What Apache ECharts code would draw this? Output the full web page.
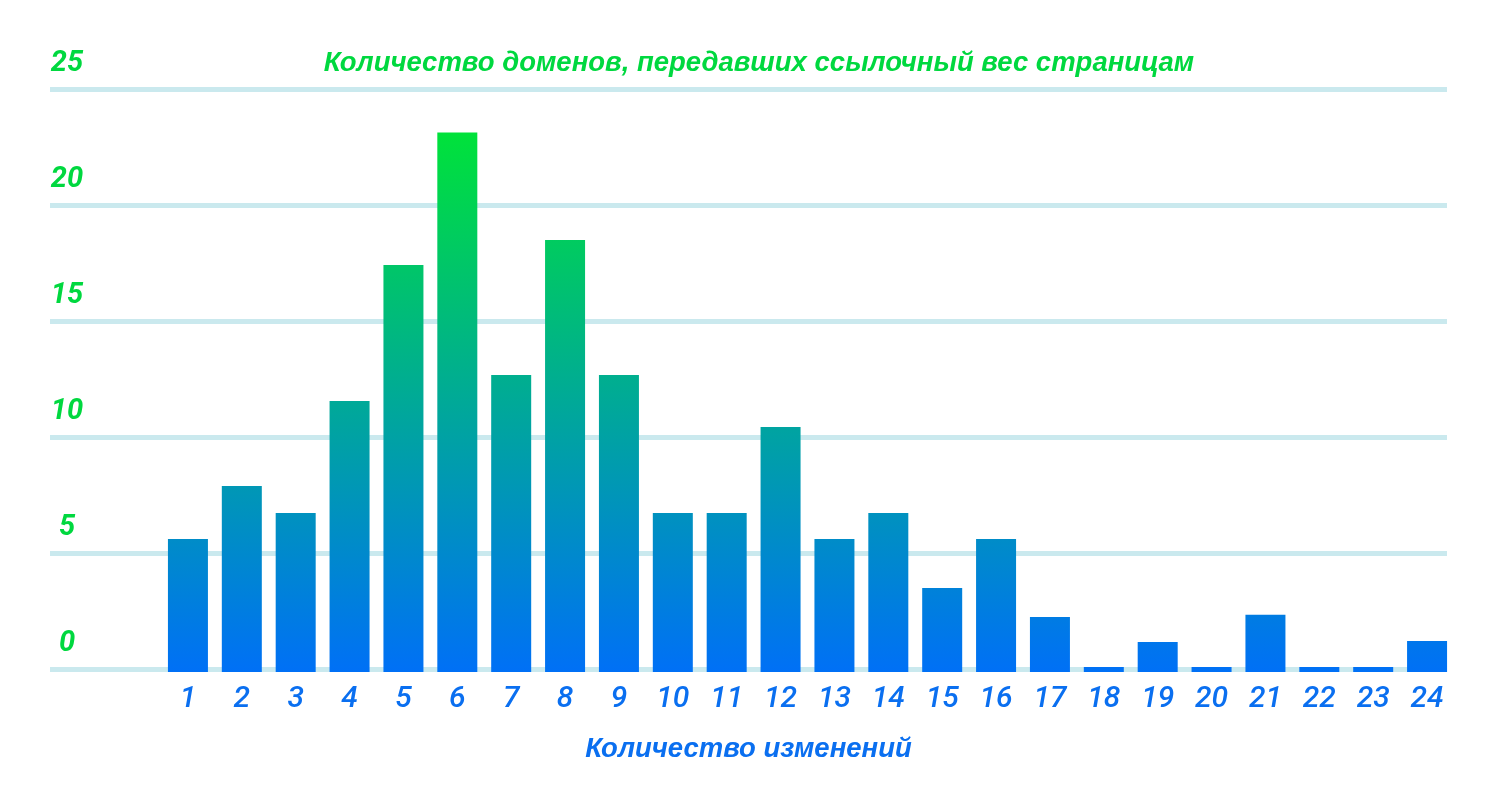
<!DOCTYPE html>
<html>
<head>
<meta charset="utf-8">
<script src="https://cdn.jsdelivr.net/npm/echarts@6/dist/echarts.min.js"></script>
<style>html,body{margin:0;padding:0;background:#fff;}#c{width:1500px;height:810px;}</style>
</head>
<body>
<div id="c"></div>
<script>
const titleText = 'Количество доменов, передавших ссылочный вес страницам';
const xAxisName = 'Количество изменений';
const categories = ['1','2','3','4','5','6','7','8','9','10','11','12','13','14','15','16','17','18','19','20','21','22','23','24'];
const values = [5.73, 8.02, 6.85, 11.68, 17.54, 23.25, 12.8, 18.62, 12.8, 6.85, 6.85, 10.56, 5.73, 6.85, 3.62, 5.73, 2.37, 0.22, 1.29, 0.22, 2.47, 0.22, 0.22, 1.34];
const yTicks = [0, 5, 10, 15, 20, 25];

const chart = echarts.init(document.getElementById('c'));
const green = '#00d83f';
const blue = '#0a6ff0';
chart.setOption({
  backgroundColor: '#ffffff',
  animation: false,
  title: {
    text: titleText,
    left: 754, top: 45, textAlign: 'center',
    textStyle: { fontFamily: 'Liberation Sans', fontStyle: 'italic', fontWeight: 'bold', fontSize: 27.5, color: green }
  },
  grid: [
    { left: 50, right: 53, top: 89, bottom: 141 },
    { left: 161, right: 46, top: 92, bottom: 138 }
  ],
  xAxis: [
    { gridIndex: 0, type: 'category', data: [''],
      axisLine: { show: false }, axisTick: { show: false }, axisLabel: { show: false }, splitLine: { show: false },
      name: xAxisName, nameLocation: 'middle', nameGap: 67,
      nameTextStyle: { fontFamily: 'Liberation Sans', fontStyle: 'italic', fontWeight: 'bold', fontSize: 27.5, color: blue }
    },
    { gridIndex: 1, type: 'category', data: categories,
      axisLine: { show: false }, axisTick: { show: false },
      axisLabel: { margin: 12, fontFamily: 'Roboto', fontStyle: 'italic', fontWeight: 500, fontSize: 30, color: blue }
    }
  ],
  yAxis: [
    { gridIndex: 0, type: 'value', min: yTicks[0], max: yTicks[yTicks.length - 1], interval: 5,
      axisLine: { show: false }, axisTick: { show: false },
      splitLine: { lineStyle: { color: '#cae9ee', width: 5 } },
      axisLabel: { inside: true, margin: 17, align: 'center', verticalAlign: 'bottom', padding: [0, 0, 11, 0],
        fontFamily: 'Roboto', fontStyle: 'italic', fontWeight: 'bold', fontSize: 29, color: green }
    },
    { gridIndex: 1, type: 'value', min: 0, max: 25, show: false, splitLine: { show: false } }
  ],
  series: [
    { type: 'bar', xAxisIndex: 1, yAxisIndex: 1, data: values, barWidth: 40,
      itemStyle: {
        color: new echarts.graphic.LinearGradient(0, 133, 0, 672, [
          { offset: 0, color: '#00e23a' },
          { offset: 1, color: '#0070f6' }
        ], true)
      }
    }
  ]
});
</script>
</body>
</html>
